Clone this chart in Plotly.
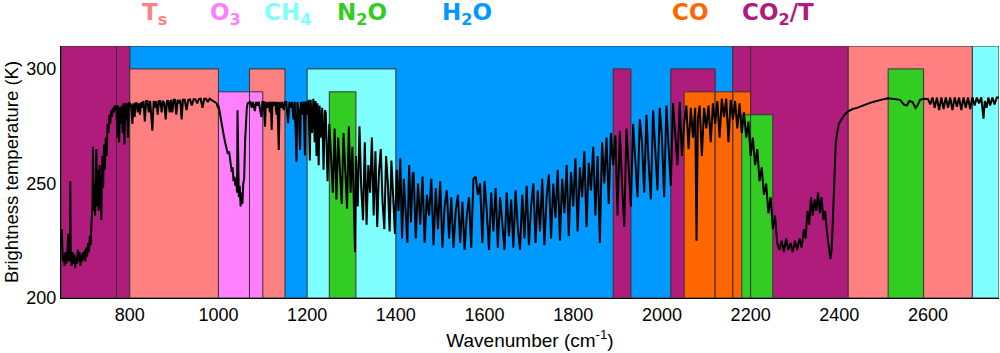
import plotly.graph_objects as go

# ---------------- spectrum (wavenumber cm-1, brightness temperature K) ----------------
wn_co2_band = [645, 647, 649, 651, 653, 655, 657, 659, 661, 663, 665, 666, 667, 669, 671, 673, 675,
               677, 679, 681, 683, 685, 687, 689, 691, 693, 695, 697, 699]
tb_co2_band = [223, 230, 216, 219, 214, 220, 215, 218, 228, 216, 219, 251, 217, 214, 220, 215, 219,
               213, 218, 215, 221, 216, 220, 214, 219, 216, 220, 217, 221]

wn_co2_wing = [700, 702, 704, 706, 708, 710, 712, 714, 716, 717, 718, 720, 722, 724, 725, 726, 728,
               730, 732, 734, 736, 738, 740, 742, 744, 746, 748, 750, 752, 754, 756, 758, 760, 762,
               764, 766, 768, 770, 772, 774, 776, 778, 780, 782, 784, 786, 788, 790, 792, 794, 796, 798]
tb_co2_wing = [216, 222, 218, 224, 220, 227, 223, 234, 240, 266, 238, 250, 236, 262, 265, 240, 256,
               238, 258, 246, 234, 262, 248, 267, 256, 270, 262, 276, 272, 280, 276, 282, 279, 283,
               281, 284, 282, 284, 270, 284, 268, 283, 276, 284, 272, 285, 267, 285, 278, 285, 270, 285]

wn_window = [800, 803, 806, 808, 811, 813, 816, 818, 821, 823, 826, 829, 831, 834, 837, 840, 843,
             846, 849, 851, 854, 857, 860, 863, 866, 869, 872, 875, 878, 881, 884, 887, 890, 893,
             896, 899, 902, 905, 908, 911, 914, 917, 920, 924, 928, 932, 936, 940, 944, 948, 952,
             956, 960, 964, 968, 972, 976, 980, 984, 988, 992, 996, 999]
tb_window = [285, 284, 276, 285, 279, 285, 285, 281, 285, 280, 285.5, 283, 286, 277, 286, 286, 281,
             286, 275, 273, 286, 283, 286, 280, 286, 286, 281, 286, 285, 278, 286, 286, 281, 286.5,
             281, 286.5, 286.5, 280, 286.5, 285, 286.5, 278, 286.5, 286.5, 282, 286.5, 286.7, 284,
             286.8, 286.8, 285, 286.8, 287, 283, 287, 287, 285.5, 287, 286.5, 286, 285.5, 285, 283]

wn_o3 = [1000, 1003, 1006, 1009, 1012, 1015, 1018, 1021, 1024, 1027, 1030, 1032, 1034, 1036, 1038,
         1040, 1042, 1043, 1044, 1046, 1048, 1050, 1052, 1054, 1056, 1058, 1060, 1062, 1064, 1066, 1069]
tb_o3 = [284, 281, 277, 274, 271, 268, 266, 263, 264, 259, 255, 257, 251, 253, 249,
         252, 246, 282, 262, 244, 249, 240, 246, 241, 250, 252, 268, 279, 283, 285, 285.5]

wn_ch4 = [1072, 1075, 1078, 1082, 1085, 1088, 1091, 1094, 1097, 1099, 1102, 1105, 1107, 1110, 1113,
          1116, 1118, 1120, 1122, 1125, 1128, 1131, 1133, 1136, 1138, 1141, 1144, 1147, 1150, 1153,
          1157, 1160, 1163, 1166, 1169, 1172, 1176, 1178, 1181, 1184, 1186, 1189, 1192, 1195, 1197,
          1200, 1203, 1206, 1208, 1211, 1214, 1217, 1219, 1221, 1223, 1226, 1228, 1231, 1234, 1237, 1240]
tb_ch4 = [285.6, 283, 285.6, 281.6, 285.6, 284, 285.6, 282, 279, 285.6, 285.6, 274.8, 285.6, 283, 285.6,
          281, 285.6, 273.4, 285.6, 284, 285.6, 280, 285.6, 264.6, 285.6, 283, 285.6, 282, 285.6, 285.6,
          276.3, 285.6, 283, 285.6, 278, 285.6, 259.5, 285.6, 282, 264.6, 285.6, 280, 285.8, 262.2, 285.8,
          280, 286.5, 260, 286.5, 272, 287, 268, 286, 262, 285, 258, 284, 270, 283, 256, 282]

wn_h2o_wing = [1242, 1246, 1250, 1254, 1258, 1262, 1266, 1270, 1274, 1278, 1282, 1286, 1290, 1294,
               1298, 1302, 1306, 1308, 1310, 1314, 1318, 1322, 1326, 1330, 1334, 1338, 1342, 1346,
               1350, 1354, 1358, 1362, 1366, 1370, 1374, 1378, 1382, 1386, 1390, 1394, 1398, 1402,
               1406, 1410, 1414, 1418, 1422, 1426, 1430, 1434, 1438]
tb_h2o_wing = [281, 251, 276, 262, 246, 274, 243, 270, 252, 241, 272, 258, 239, 275,
               246, 266, 236, 220, 262, 240, 275, 248, 234, 268, 232, 258, 246, 270,
               236, 264, 231, 255, 265, 242, 230, 262, 250, 229, 260, 244, 228, 256,
               238, 261, 226, 252, 240, 224, 258, 233, 254]

wn_h2o_band = [1440, 1445, 1450, 1455, 1460, 1465, 1470, 1475, 1480, 1485, 1490, 1495, 1500, 1505,
               1510, 1515, 1520, 1525, 1530, 1535, 1540, 1545, 1550, 1555, 1560, 1565, 1570, 1575,
               1580, 1585, 1590, 1595, 1600, 1605, 1610, 1615, 1620, 1625, 1630, 1635, 1640, 1645,
               1650, 1655, 1660, 1665, 1670, 1675, 1680, 1685, 1690, 1695, 1700, 1705, 1710, 1715,
               1720, 1725, 1730, 1735, 1740, 1745, 1750, 1755, 1760, 1765, 1770, 1775, 1780, 1785,
               1790, 1795, 1800, 1805, 1810, 1815, 1820, 1825, 1830, 1835, 1840, 1845, 1850, 1855,
               1860, 1865, 1870, 1875, 1880, 1885, 1890, 1895]
tb_h2o_band = [255, 226, 250, 232, 253, 224, 245, 236, 252, 223, 248, 230, 251, 222,
               240, 247, 226, 244, 222, 238, 245, 224, 242, 221, 236, 244, 222, 252,
               253, 245, 250, 224, 251, 238, 221, 246, 229, 248, 222, 244, 234, 221,
               246, 227, 243, 222, 247, 231, 221, 245, 226, 249, 223, 240, 250, 224,
               247, 229, 252, 223, 244, 254, 226, 250, 235, 256, 225, 252, 237, 258,
               227, 255, 240, 261, 229, 257, 244, 264, 231, 259, 247, 266, 236, 262,
               224, 268, 250, 270, 241, 272, 258, 271]

wn_co_region = [1900, 1905, 1910, 1915, 1920, 1925, 1930, 1935, 1940, 1945, 1950, 1955, 1960, 1965,
                1970, 1975, 1980, 1985, 1990, 1995, 2000, 2005, 2010, 2015, 2020, 2025, 2030, 2035,
                2040, 2045, 2050, 2055, 2060, 2065, 2070, 2075, 2078, 2081, 2085, 2090, 2095, 2100,
                2105, 2110, 2115, 2120, 2125, 2130, 2135, 2140, 2145, 2150, 2155, 2160, 2165, 2170,
                2175, 2180, 2185, 2190, 2195, 2200, 2205, 2210, 2215, 2220, 2225, 2230, 2235, 2240,
                2245, 2250, 2255, 2260]
tb_co_region = [236, 273, 250, 231, 274, 258, 240, 276, 262, 244, 278, 268, 246, 280,
                259, 243, 282, 265, 247, 283, 270, 244, 284, 266, 249, 285, 272, 258,
                285.5, 262, 276, 284, 265, 283, 270, 283, 225, 278, 284, 262, 283, 274,
                284, 268, 285, 276, 286, 270, 287, 279, 287, 268, 286.5, 278, 286, 274,
                285, 272, 281, 270, 277, 262, 270, 258, 265, 251, 257, 245, 250, 237,
                244, 230, 236, 224]

wn_co2_43 = [2265, 2270, 2275, 2280, 2285, 2290, 2295, 2300, 2305, 2310, 2315, 2320, 2324, 2328,
             2332, 2336, 2340, 2344, 2348, 2352, 2356, 2360, 2364, 2368, 2372, 2376, 2380, 2383,
             2386, 2389, 2392, 2395, 2399]
tb_co2_43 = [221, 225, 220, 226, 221, 224, 220, 225, 221, 226, 222, 230, 226, 238,
             232, 244, 236, 243, 238, 246, 237, 244, 234, 238, 229, 224, 217, 222,
             240, 258, 268, 272, 276]

wn_sw_window = [2405, 2412, 2420, 2430, 2440, 2450, 2460, 2470, 2480, 2490, 2500, 2510, 2520, 2530,
                2537, 2545, 2552, 2558, 2565, 2572, 2576, 2582, 2590, 2600, 2605, 2610, 2615, 2620,
                2625, 2630, 2635, 2640, 2645, 2650, 2655, 2660, 2665, 2670, 2675, 2680, 2685, 2690,
                2695, 2700, 2705, 2710, 2715, 2720, 2725, 2728, 2732, 2736, 2740, 2745, 2750, 2755, 2760]
tb_sw_window = [278, 280, 281.5, 282.5, 283, 283.6, 284.5, 285.2, 285.8, 286.3, 286.8, 287.2, 287, 286.8,
                286.5, 284.5, 284, 286, 285.5, 283, 284, 286.5, 287, 286.8, 284.5, 287.5, 283, 287.5,
                282, 287.6, 282.5, 287.6, 283, 287.5, 282, 287.6, 283.5, 287.5, 282, 287.6, 283, 287.5,
                282.5, 287.6, 284, 287.5, 285, 287.6, 278.3, 286, 283, 287.5, 284, 287.5, 284.5, 287.5, 287.5]

# ---------------- sensitivity bands ----------------
band_start = [800, 645, 770, 2160, 2200, 2420, 2700, 800, 1070, 1000, 1070, 1200, 1250, 1890, 2020,
              2050, 2120, 2160, 2180, 2200, 2510]
band_end = [2160, 770, 800, 2200, 2420, 2700, 2760, 1000, 1150, 1070, 1100, 1400, 1310, 1930, 2120,
            2120, 2160, 2200, 2200, 2250, 2590]
band_top = [310, 310, 310, 310, 310, 310, 310, 300, 300, 290, 290, 300, 290, 300, 300,
            290, 290, 290, 280, 280, 300]
band_gas = ["H2O", "CO2", "CO2", "CO2", "CO2", "Ts", "CH4", "Ts", "Ts", "O3", "O3", "CH4", "N2O", "CO2", "CO2",
            "CO", "CO", "CO", "N2O", "N2O", "N2O"]

gas_colors = {"Ts": "#FF8080", "O3": "#FF80FF", "CH4": "#80FFFF", "N2O": "#33CC22",
              "H2O": "#0099FF", "CO": "#FF6600", "CO2": "#B01C7C"}

label_text = ["T<sub>s</sub>", "O<sub>3</sub>", "CH<sub>4</sub>", "N<sub>2</sub>O",
              "H<sub>2</sub>O", "CO", "CO<sub>2</sub>/T"]
label_gas = ["Ts", "O3", "CH4", "N2O", "H2O", "CO", "CO2"]
label_wn = [855, 1016, 1156, 1323, 1560, 2063, 2262]

wn = (wn_co2_band + wn_co2_wing + wn_window + wn_o3 + wn_ch4 + wn_h2o_wing + wn_h2o_band
      + wn_co_region + wn_co2_43 + wn_sw_window)
tb = (tb_co2_band + tb_co2_wing + tb_window + tb_o3 + tb_ch4 + tb_h2o_wing + tb_h2o_band
      + tb_co_region + tb_co2_43 + tb_sw_window)

fig = go.Figure()

for x0, x1, top, gas in zip(band_start, band_end, band_top, band_gas):
    fig.add_shape(type="rect", xref="x", yref="y", x0=x0, x1=x1, y0=200, y1=top,
                  fillcolor=gas_colors[gas], line=dict(color="#333333", width=1), layer="below")

fig.add_trace(go.Scatter(x=wn, y=tb, mode="lines", line=dict(color="black", width=2),
                         showlegend=False, hoverinfo="skip"))

for txt, gas, xw in zip(label_text, label_gas, label_wn):
    fig.add_annotation(x=xw, xref="x", y=1.195, yref="paper", yanchor="top", text=txt,
                       showarrow=False,
                       font=dict(family="DejaVu Sans", size=23, color=gas_colors[gas], weight="bold"))

fig.update_layout(
    width=1000, height=353,
    margin=dict(l=61, r=1, t=46, b=55),
    paper_bgcolor="white", plot_bgcolor="white",
    font=dict(family="Liberation Sans", size=18, color="black"),
    showlegend=False,
)
fig.update_xaxes(range=[645, 2760], showgrid=False, zeroline=False, showline=True,
                 linecolor="black", linewidth=1, ticks="", tickvals=[800, 1000, 1200, 1400, 1600, 1800,
                 2000, 2200, 2400, 2600], tickfont=dict(size=18),
                 title=dict(text="Wavenumber (cm<sup>-1</sup>)", font=dict(size=19), standoff=10))
fig.update_yaxes(range=[200, 310], showgrid=False, zeroline=False, showline=True,
                 linecolor="black", linewidth=1, ticks="", tickvals=[200, 250, 300],
                 tickfont=dict(size=18),
                 title=dict(text="Brightness temperature (K)", font=dict(size=18.5), standoff=2))

fig.write_html("out.html")
